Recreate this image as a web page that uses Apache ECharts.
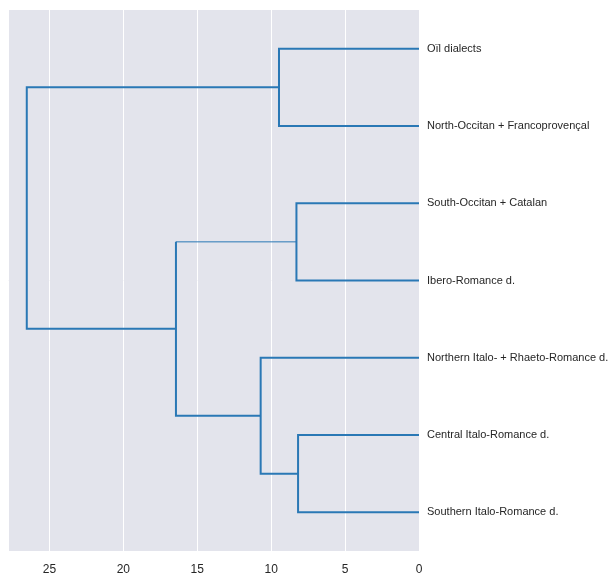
<!DOCTYPE html>
<html>
<head>
<meta charset="utf-8">
<script src="https://cdn.jsdelivr.net/npm/echarts@6/dist/echarts.min.js"></script>
<style>
html,body{margin:0;padding:0;background:#fff;}
#chart{width:611px;height:576px;}
</style>
</head>
<body>
<div id="chart"></div>
<script>
// Leaves, top to bottom
const leaves = [
  'Oïl dialects',
  'North-Occitan + Francoprovençal',
  'South-Occitan + Catalan',
  'Ibero-Romance d.',
  'Northern Italo- + Rhaeto-Romance d.',
  'Central Italo-Romance d.',
  'Southern Italo-Romance d.'
];
// Linkage rows: [child A, child B, merge distance]; new clusters numbered from 7
const linkLeft   = [5, 2, 0, 4, 8, 9];
const linkRight  = [6, 3, 1, 7, 10, 11];
const linkHeight = [8.18, 8.29, 9.47, 10.71, 16.44, 26.53];
// Which link's upper arm is drawn thin (index into the linkage rows)
const thinArmLink = 4;
const xTicks = [0, 5, 10, 15, 20, 25];
const xMax = 27.8;

// node positions: leaf y = 5 + 10*i (scipy-style), height 0
const nodeY = leaves.map((_, i) => 5 + 10 * i);
const nodeH = leaves.map(() => 0);
linkLeft.forEach((a, k) => {
  const b = linkRight[k];
  nodeY.push((nodeY[a] + nodeY[b]) / 2);
  nodeH.push(linkHeight[k]);
});

const color = '#2a78b5';
const linesData = [];
linkLeft.forEach((a, k) => {
  const b = linkRight[k], h = linkHeight[k];
  const pA = [nodeH[a], nodeY[a]], pB = [nodeH[b], nodeY[b]];
  if (k === thinArmLink) {
    linesData.push({coords: [pA, [h, nodeY[a]]], lineStyle: {width: 1}});
    linesData.push({coords: [[h, nodeY[a]], [h, nodeY[b]], pB]});
  } else {
    linesData.push({coords: [pA, [h, nodeY[a]], [h, nodeY[b]], pB]});
  }
});

const font = '"Liberation Sans", Arial, sans-serif';
const chart = echarts.init(document.getElementById('chart'), null, {renderer: 'canvas'});
chart.setOption({
  animation: false,
  backgroundColor: '#ffffff',
  grid: {left: 8, top: 10, right: 192, bottom: 25, show: true, backgroundColor: '#e3e4ec', borderWidth: 0, containLabel: false, outerBoundsMode: 'none'},
  xAxis: {
    type: 'value', inverse: true, min: 0, max: xMax, interval: 5,
    axisLine: {show: false}, axisTick: {show: false},
    axisLabel: {
      color: '#262626', fontFamily: font, fontSize: 12, margin: 13,
      showMaxLabel: false,
      formatter: v => xTicks.includes(v) ? String(v) : ''
    },
    splitLine: {show: true, lineStyle: {color: '#ffffff', width: 1}}
  },
  yAxis: [
    {type: 'value', min: 0, max: 70, inverse: true, show: false},
    {
      type: 'category', data: leaves, inverse: true, position: 'right',
      axisLine: {show: false}, axisTick: {show: false}, splitLine: {show: false},
      axisLabel: {color: '#262626', fontFamily: font, fontSize: 11, margin: 8}
    }
  ],
  series: [{
    type: 'lines', coordinateSystem: 'cartesian2d', polyline: true,
    xAxisIndex: 0, yAxisIndex: 0,
    lineStyle: {color: color, width: 2, opacity: 1},
    data: linesData,
    silent: true
  }]
});
</script>
</body>
</html>
